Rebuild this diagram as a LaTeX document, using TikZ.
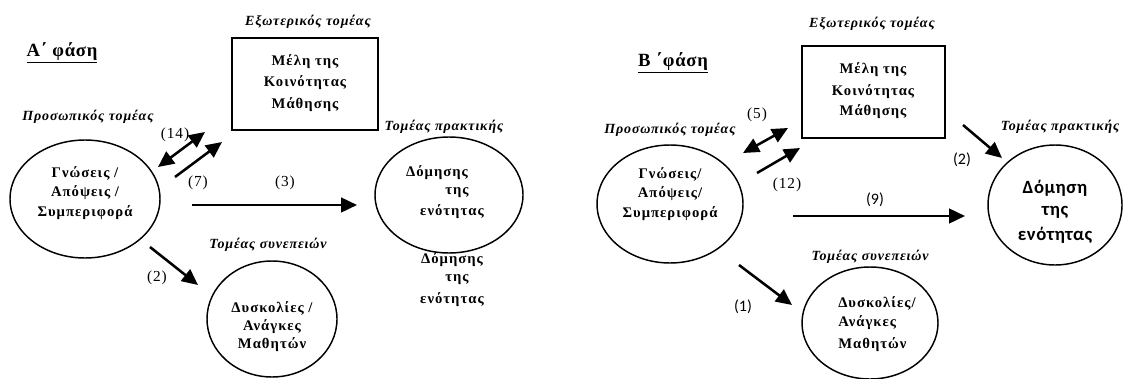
\documentclass[tikz,border=0pt]{standalone}
\usepackage{fontspec}
\setmainfont{Liberation Serif}
\newfontfamily\nsans{Carlito}
\usetikzlibrary{shapes.geometric,arrows.meta}
\tikzset{
  lbl/.style={font=\fontsize{10.5}{12}\selectfont\bfseries\itshape\addfontfeature{LetterSpace=6}, inner sep=0pt},
  txt/.style={font=\fontsize{11}{12}\selectfont\bfseries\addfontfeature{LetterSpace=7}, inner sep=0pt},
  num/.style={font=\fontsize{11.5}{12}\selectfont\addfontfeature{LetterSpace=6}, inner sep=0pt},
  snum/.style={font=\fontsize{12}{12}\selectfont\nsans, inner sep=0pt},
  stxt/.style={font=\fontsize{14}{14}\selectfont\nsans\bfseries\addfontfeature{LetterSpace=3}, inner sep=0pt},
  phase/.style={font=\fontsize{14}{14}\selectfont\bfseries\addfontfeature{LetterSpace=4}, inner sep=0pt},
  oval/.style={ellipse, draw, line width=1.1pt, inner sep=0pt},
  box/.style={draw, line width=1.1pt, inner sep=0pt},
  arr/.style={line width=1.9pt, -{Triangle[length=12pt,width=11pt]}},
  darr/.style={line width=1.9pt, {Triangle[length=12pt,width=11pt]}-{Triangle[length=12pt,width=11pt]}},
}
\begin{document}
\begin{tikzpicture}[x=0.75pt,y=-0.75pt]
\useasboundingbox (0,0) rectangle (1123,378);
% ---------- Phase A ----------
\node[phase] (phA) at (62,53) {\underline{Α΄ φάση}};
\node[lbl] (extA) at (308,22) {Εξωτερικός τομέας};
\node[box, minimum width=146*0.75pt, minimum height=92*0.75pt] (rectA) at (305,84) {};
\node[txt] (rA1) at (305,62) {Μέλη της};
\node[txt] (rA2) at (305,83) {Κοινότητας};
\node[txt] (rA3) at (305,105) {Μάθησης};
\node[lbl] (persA) at (88,117) {Προσωπικός τομέας};
\node[oval, minimum width=150*0.75pt, minimum height=118*0.75pt] (eA1) at (85,199) {};
\node[txt] (eA1a) at (85,173) {Γνώσεις /};
\node[txt] (eA1b) at (85,193) {Απόψεις /};
\node[txt] (eA1c) at (85,213) {Συμπεριφορά};
\coordinate (a14s) at (158,167); \coordinate (a14e) at (205,132);
\draw[darr] (a14s) -- (a14e);
\node[num] (n14) at (175,135) {(14)};
\coordinate (a7s) at (175,177); \coordinate (a7e) at (222,142);
\draw[arr] (a7s) -- (a7e);
\node[num] (n7) at (198,183) {(7)};
\coordinate (a3s) at (192,205); \coordinate (a3e) at (357,205);
\draw[arr] (a3s) -- (a3e);
\node[num] (n3) at (285,183) {(3)};
\node[lbl] (consA) at (268,245) {Τομέας συνεπειών};
\coordinate (a2s) at (150,247); \coordinate (a2e) at (198,285);
\draw[arr] (a2s) -- (a2e);
\node[num] (n2) at (157,278) {(2)};
\node[oval, minimum width=130*0.75pt, minimum height=116*0.75pt] (eA2) at (272,319) {};
\node[txt] (eA2a) at (272,308) {Δυσκολίες /};
\node[txt] (eA2b) at (272,327) {Ανάγκες};
\node[txt] (eA2c) at (272,345) {Μαθητών};
\node[lbl] (pracA) at (444,127) {Τομέας πρακτικής};
\node[oval, minimum width=148*0.75pt, minimum height=116*0.75pt] (eA3) at (449,195) {};
\node[txt] (eA3a) at (437,173) {Δόμησης};
\node[txt] (eA3b) at (457,193) {της};
\node[txt] (eA3c) at (452,212) {ενότητας};
\node[txt] (dA1) at (452,260) {Δόμησης};
\node[txt] (dA2) at (457,280) {της};
\node[txt] (dA3) at (452,300) {ενότητας};
% ---------- Phase B ----------
\node[phase] (phB) at (673,63) {\underline{Β ΄φάση}};
\node[lbl] (extB) at (872,24) {Εξωτερικός τομέας};
\node[box, minimum width=143*0.75pt, minimum height=92*0.75pt] (rectB) at (873.5,92) {};
\node[txt] (rB1) at (873,70) {Μέλη της};
\node[txt] (rB2) at (873,92) {Κοινότητας};
\node[txt] (rB3) at (873,112) {Μάθησης};
\node[lbl] (persB) at (670,130) {Προσωπικός τομέας};
\node[oval, minimum width=146*0.75pt, minimum height=118*0.75pt] (eB1) at (670,204) {};
\node[txt] (eB1a) at (670,174) {Γνώσεις/};
\node[txt] (eB1b) at (670,194) {Απόψεις/};
\node[txt] (eB1c) at (670,214) {Συμπεριφορά};
\coordinate (b5s) at (743,153); \coordinate (b5e) at (788,128);
\draw[darr] (b5s) -- (b5e);
\node[num] (n5) at (757,115) {(5)};
\coordinate (b12s) at (757,173); \coordinate (b12e) at (800,148);
\draw[arr] (b12s) -- (b12e);
\node[num] (n12) at (787,185) {(12)};
\coordinate (b9s) at (793,216); \coordinate (b9e) at (965,216);
\draw[arr] (b9s) -- (b9e);
\node[snum] (n9) at (875,200) {(9)};
\node[lbl] (consB) at (870,257) {Τομέας συνεπειών};
\coordinate (b1s) at (739,265); \coordinate (b1e) at (792,305);
\draw[arr] (b1s) -- (b1e);
\node[snum] (n1) at (743,307) {(1)};
\node[oval, minimum width=136*0.75pt, minimum height=112*0.75pt] (eB2) at (870,323) {};
\node[txt, anchor=west] (eB2a) at (838,303) {Δυσκολίες/};
\node[txt, anchor=west] (eB2b) at (838,323) {Ανάγκες};
\node[txt, anchor=west] (eB2c) at (838,345) {Μαθητών};
\coordinate (b2s) at (963,125); \coordinate (b2e) at (1002,158);
\draw[arr] (b2s) -- (b2e);
\node[snum] (n2b) at (962,160) {(2)};
\node[lbl] (pracB) at (1060,127) {Τομέας πρακτικής};
\node[oval, minimum width=134*0.75pt, minimum height=120*0.75pt] (eB3) at (1055,205) {};
\node[stxt] (eB3a) at (1055,188) {Δόμηση};
\node[stxt] (eB3b) at (1055,212) {της};
\node[stxt] (eB3c) at (1055,235) {ενότητας};
\end{tikzpicture}
\end{document}
